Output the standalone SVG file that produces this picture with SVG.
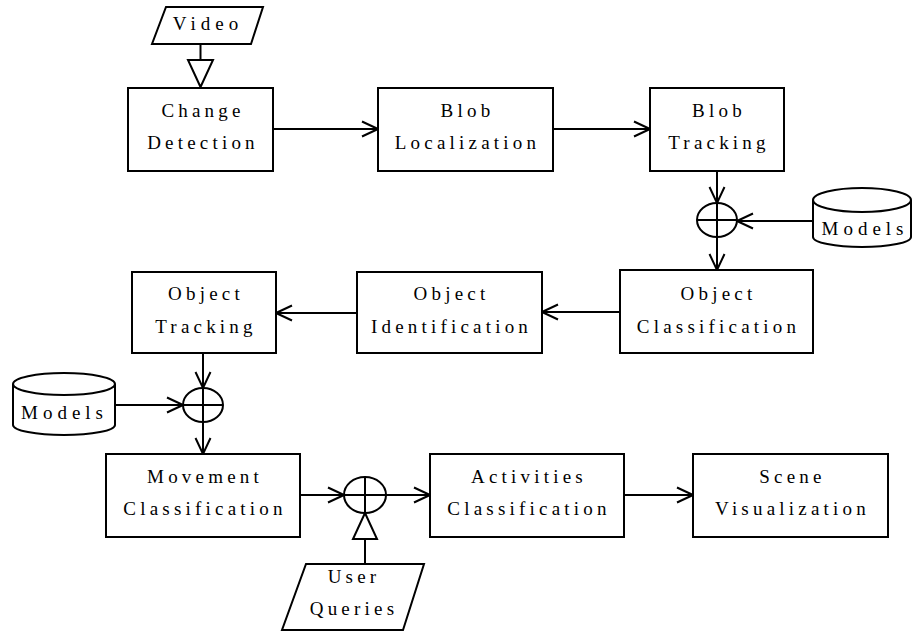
<svg xmlns="http://www.w3.org/2000/svg" width="913" height="632" viewBox="0 0 913 632">
<style>
.b{fill:#fff;stroke:#000;stroke-width:2}
.t{font-family:"Liberation Serif","Times New Roman",serif;font-size:19px;letter-spacing:4.2px;text-anchor:middle;fill:#000}
.l{fill:none;stroke:#000;stroke-width:2}
</style>
<defs>
<marker id="v" viewBox="-18 -9 20 18" refX="0" refY="0" markerWidth="20" markerHeight="18" markerUnits="userSpaceOnUse" orient="auto">
<path d="M-16,-7.5 L0,0 L-16,7.5" fill="none" stroke="#000" stroke-width="2"/>
</marker>
</defs>
<rect width="913" height="632" fill="#fff"/>
<g id="connectors">
<path class="l" d="M200.5,44 V60"/>
<polygon class="b" points="188,60 213,60 200.5,87"/>
<path class="l" d="M273,129 H378" marker-end="url(#v)"/>
<path class="l" d="M553,129 H650" marker-end="url(#v)"/>
<path class="l" d="M717,171 V203" marker-end="url(#v)"/>
<path class="l" d="M813,221 H737" marker-end="url(#v)"/>
<path class="l" d="M717,237 V270" marker-end="url(#v)"/>
<path class="l" d="M620,312 H542" marker-end="url(#v)"/>
<path class="l" d="M357,313 H276" marker-end="url(#v)"/>
<path class="l" d="M203,353 V388" marker-end="url(#v)"/>
<path class="l" d="M115,405 H183" marker-end="url(#v)"/>
<path class="l" d="M203,422 V454" marker-end="url(#v)"/>
<path class="l" d="M300,495 H344" marker-end="url(#v)"/>
<path class="l" d="M386,495 H430" marker-end="url(#v)"/>
<path class="l" d="M624,495 H693" marker-end="url(#v)"/>
<path class="l" d="M365,539 V564"/>
<polygon class="b" points="353,539 377,539 365,513"/>
</g>
<g id="sum1">
<ellipse class="b" cx="717" cy="220" rx="20" ry="17"/>
<path class="l" d="M697,220 H737 M717,203 V237"/>
</g>
<g id="sum2">
<ellipse class="b" cx="203" cy="405" rx="20" ry="17"/>
<path class="l" d="M183,405 H223 M203,388 V422"/>
</g>
<g id="sum3">
<ellipse class="b" cx="365" cy="495" rx="21" ry="18"/>
<path class="l" d="M344,495 H386 M365,477 V513"/>
</g>
<g id="video">
<polygon class="b" points="166,7 263,7 251,44 152,44"/>
<text class="t" x="208" y="30" style="letter-spacing:5px">Video</text>
</g>
<g id="change-detection">
<rect class="b" x="128" y="88" width="145" height="83"/>
<text class="t" x="203" y="117">Change</text>
<text class="t" x="203" y="149">Detection</text>
</g>
<g id="blob-localization">
<rect class="b" x="378" y="88" width="175" height="83"/>
<text class="t" x="467.5" y="117">Blob</text>
<text class="t" x="467.5" y="149">Localization</text>
</g>
<g id="blob-tracking">
<rect class="b" x="650" y="88" width="134" height="83"/>
<text class="t" x="719" y="117">Blob</text>
<text class="t" x="719" y="149">Tracking</text>
</g>
<g id="models-right">
<path class="b" d="M813,200 V237 A49,10 0 0 0 911,237 V200"/>
<ellipse class="b" cx="862" cy="200" rx="49" ry="12"/>
<text class="t" x="865" y="235" style="letter-spacing:5px">Models</text>
</g>
<g id="object-classification">
<rect class="b" x="620" y="270" width="193" height="83"/>
<text class="t" x="718.5" y="300">Object</text>
<text class="t" x="718.5" y="333">Classification</text>
</g>
<g id="object-identification">
<rect class="b" x="357" y="272" width="185" height="81"/>
<text class="t" x="451.5" y="300">Object</text>
<text class="t" x="451.5" y="333">Identification</text>
</g>
<g id="object-tracking">
<rect class="b" x="132" y="272" width="144" height="81"/>
<text class="t" x="206" y="300">Object</text>
<text class="t" x="206" y="333">Tracking</text>
</g>
<g id="models-left">
<path class="b" d="M13,384 V425 A51,10 0 0 0 115,425 V384"/>
<ellipse class="b" cx="64" cy="384" rx="51" ry="11"/>
<text class="t" x="64.5" y="419" style="letter-spacing:5px">Models</text>
</g>
<g id="movement-classification">
<rect class="b" x="106" y="454" width="194" height="83"/>
<text class="t" x="205" y="483">Movement</text>
<text class="t" x="205" y="515">Classification</text>
</g>
<g id="activities-classification">
<rect class="b" x="430" y="454" width="194" height="83"/>
<text class="t" x="529" y="483">Activities</text>
<text class="t" x="529" y="515">Classification</text>
</g>
<g id="scene-visualization">
<rect class="b" x="693" y="454" width="195" height="83"/>
<text class="t" x="792.5" y="483">Scene</text>
<text class="t" x="792.5" y="515">Visualization</text>
</g>
<g id="user-queries">
<polygon class="b" points="306,564 424,564 403,630 282,630"/>
<text class="t" x="354" y="583">User</text>
<text class="t" x="354" y="615">Queries</text>
</g>
</svg>
